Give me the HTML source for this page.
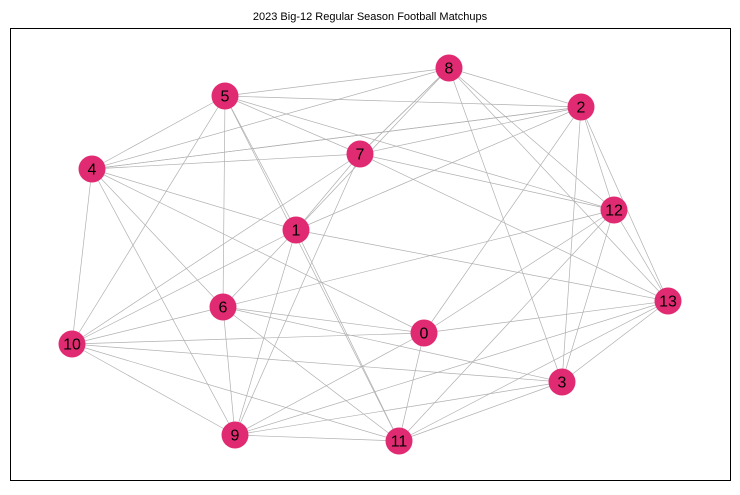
<!DOCTYPE html>
<html><head><meta charset="utf-8"><style>
body{margin:0;background:#fff;width:740px;height:490px;overflow:hidden}
text{font-family:"Liberation Sans","DejaVu Sans",sans-serif}
</style></head><body>
<svg id="chart" width="740" height="490" xmlns="http://www.w3.org/2000/svg">
<text x="370" y="20" text-anchor="middle" font-size="11">2023 Big-12 Regular Season Football Matchups</text>
<rect x="10.5" y="28.5" width="720" height="452" fill="none" stroke="#000" stroke-width="1"/>
<g id="edges"></g>
<g id="nodes"></g>
</svg>
<script>
const nodeIds = [0,1,2,3,4,5,6,7,8,9,10,11,12,13];
const nodeX = [424,296,581,562,92,225,223,360,449,235,72,399,614,668];
const nodeY = [333,230,107,382,169,96,307,154,68,435,344,441,210,301];
const edgeFrom = [5,5,5,5,5,5,5,5,5, 4,4,4,4,4,4,4,4, 8,8,8,8,8,8,8, 2,2,2,2,2,2,2, 7,7,7,7,7, 12,12,12,12,12, 1,1,1,1,1, 6,6,6,6,6, 10,10,10,10, 9,9,9,9, 0,0, 3,3, 11];
const edgeTo   = [8,2,4,10,6,1,11,7,12, 8,2,7,1,0,6,9,10, 7,1,2,12,13,3,7, 4,7,1,0,3,12,13, 12,13,10,9,1, 6,0,11,3,13, 13,6,10,9,11, 0,3,11,9,10, 0,3,11,9, 0,13,3,11, 11,13, 13,11, 13];
const NS="http://www.w3.org/2000/svg";
const eg=document.getElementById('edges'), ng=document.getElementById('nodes');
for(let i=0;i<edgeFrom.length;i++){
  const a=edgeFrom[i], b=edgeTo[i];
  const l=document.createElementNS(NS,'line');
  l.setAttribute('x1',nodeX[a]);l.setAttribute('y1',nodeY[a]);
  l.setAttribute('x2',nodeX[b]);l.setAttribute('y2',nodeY[b]);
  l.setAttribute('stroke','#b0b0b0');l.setAttribute('stroke-width','0.7');
  
  
  eg.appendChild(l);
}
for(let i=0;i<nodeIds.length;i++){
  const c=document.createElementNS(NS,'circle');
  c.setAttribute('cx',nodeX[i]);c.setAttribute('cy',nodeY[i]);c.setAttribute('r',13.5);
  c.setAttribute('fill','#e02b72');
  
  
  ng.appendChild(c);
  const t=document.createElementNS(NS,'text');
  t.setAttribute('x',nodeX[i]);t.setAttribute('y',nodeY[i]+5.5);
  t.setAttribute('text-anchor','middle');t.setAttribute('font-size','16');
  t.textContent=nodeIds[i];
  
  
  ng.appendChild(t);
}
</script>
</body></html>
